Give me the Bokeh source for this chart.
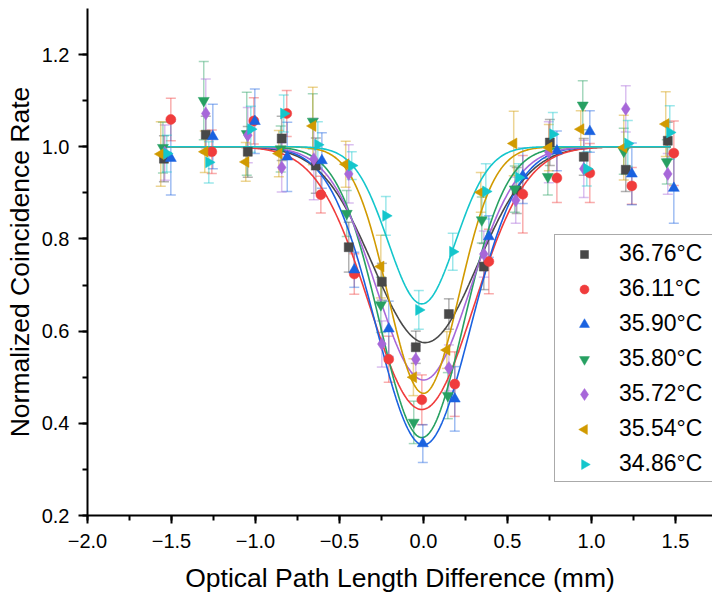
import numpy as np
from bokeh.plotting import figure
from bokeh.models import (Range1d, FixedTicker, Whisker, TeeHead, ColumnDataSource,
                          Legend, LegendItem)
from bokeh.embed import file_html
from bokeh.resources import INLINE

# ---------------- data ----------------
labels = ["36.76°C", "36.11°C", "35.90°C", "35.80°C", "35.72°C", "35.54°C", "34.86°C"]
colors = ["#484848", "#f03c3c", "#1a62e0", "#27a062", "#a767d9", "#d19a00", "#14c6cc"]
markers = ["square", "circle", "triangle", "inverted_triangle", "diamond", "triangle", "triangle"]
angles = [0, 0, 0, 0, 0, np.pi / 2, -np.pi / 2]

x_3676 = [-1.545, -1.296, -1.046, -0.844, -0.641, -0.445, -0.248, -0.046, 0.151, 0.359, 0.555, 0.752, 0.954, 1.204, 1.454]
y_3676 = [0.974, 1.026, 0.989, 1.018, 0.959, 0.782, 0.707, 0.565, 0.637, 0.740, 0.905, 1.009, 0.978, 0.950, 1.013]
e_3676 = [0.05, 0.04, 0.055, 0.048, 0.06, 0.054, 0.04, 0.035, 0.033, 0.05, 0.05, 0.05, 0.04, 0.047, 0.04]

x_3611 = [-1.504, -1.260, -1.010, -0.814, -0.611, -0.412, -0.207, -0.010, 0.186, 0.389, 0.591, 0.794, 0.990, 1.240, 1.490]
y_3611 = [1.059, 0.989, 1.056, 1.072, 0.896, 0.724, 0.539, 0.451, 0.485, 0.751, 0.897, 0.932, 0.943, 0.915, 0.986]
e_3611 = [0.046, 0.047, 0.05, 0.05, 0.04, 0.044, 0.05, 0.054, 0.07, 0.07, 0.084, 0.053, 0.064, 0.04, 0.07]

x_3590 = [-1.504, -1.254, -1.004, -0.811, -0.605, -0.412, -0.207, -0.004, 0.186, 0.389, 0.591, 0.794, 0.990, 1.240, 1.490]
y_3590 = [0.975, 1.022, 1.055, 0.978, 0.970, 0.733, 0.605, 0.356, 0.453, 0.805, 0.937, 0.991, 1.033, 0.941, 0.910]
e_3590 = [0.08, 0.07, 0.07, 0.075, 0.06, 0.038, 0.06, 0.041, 0.07, 0.045, 0.06, 0.043, 0.045, 0.067, 0.076]

x_3580 = [-1.551, -1.308, -1.052, -0.850, -0.659, -0.457, -0.254, -0.058, 0.145, 0.347, 0.543, 0.740, 0.948, 1.192, 1.448]
y_3580 = [0.998, 1.100, 1.028, 0.995, 1.055, 0.855, 0.657, 0.402, 0.460, 0.841, 0.908, 0.935, 1.090, 0.990, 0.967]
e_3580 = [0.055, 0.085, 0.09, 0.05, 0.06, 0.05, 0.06, 0.046, 0.05, 0.05, 0.05, 0.04, 0.053, 0.05, 0.048]

x_3572 = [-1.540, -1.296, -1.046, -0.844, -0.653, -0.445, -0.248, -0.046, 0.151, 0.359, 0.549, 0.746, 0.954, 1.204, 1.454]
y_3572 = [0.987, 1.072, 1.025, 0.955, 0.973, 0.941, 0.572, 0.539, 0.520, 0.767, 0.884, 0.988, 0.952, 1.082, 0.941]
e_3572 = [0.06, 0.075, 0.06, 0.053, 0.088, 0.063, 0.05, 0.03, 0.05, 0.05, 0.05, 0.066, 0.062, 0.05, 0.044]

x_3554 = [-1.564, -1.302, -1.058, -0.861, -0.659, -0.463, -0.254, -0.060, 0.139, 0.341, 0.537, 0.746, 0.936, 1.192, 1.442]
y_3554 = [0.984, 0.989, 0.967, 0.985, 1.045, 0.962, 0.740, 0.500, 0.559, 0.901, 1.007, 0.998, 1.038, 0.998, 1.049]
e_3554 = [0.07, 0.045, 0.042, 0.05, 0.084, 0.05, 0.068, 0.04, 0.04, 0.043, 0.07, 0.05, 0.04, 0.07, 0.07]

x_3486 = [-1.528, -1.278, -1.028, -0.832, -0.629, -0.427, -0.224, -0.028, 0.174, 0.371, 0.567, 0.770, 0.972, 1.216, 1.466]
y_3486 = [0.985, 0.966, 1.038, 1.072, 1.004, 0.959, 0.850, 0.646, 0.772, 0.903, 0.933, 1.027, 0.952, 1.007, 1.031]
e_3486 = [0.04, 0.045, 0.05, 0.04, 0.05, 0.03, 0.042, 0.042, 0.04, 0.06, 0.03, 0.047, 0.037, 0.05, 0.058]

# Gaussian dip fit parameters: y = 1 - depth * exp(-(x - center)^2 / (2 width^2))
fit_center = [0.01, -0.01, 0.0, -0.01, 0.0, 0.0, -0.01]
fit_depth = [0.425, 0.570, 0.647, 0.631, 0.506, 0.535, 0.341]
fit_width = [0.31, 0.31, 0.28, 0.25, 0.28, 0.21, 0.20]
fit_span = [-1.56, 1.47]

xs_all = [x_3676, x_3611, x_3590, x_3580, x_3572, x_3554, x_3486]
ys_all = [y_3676, y_3611, y_3590, y_3580, y_3572, y_3554, y_3486]
es_all = [e_3676, e_3611, e_3590, e_3580, e_3572, e_3554, e_3486]

x_ticks = [-2.0, -1.5, -1.0, -0.5, 0.0, 0.5, 1.0, 1.5]
x_tick_labels = ["−2.0", "−1.5", "−1.0", "−0.5", "0.0", "0.5", "1.0", "1.5"]
y_ticks = [0.2, 0.4, 0.6, 0.8, 1.0, 1.2]
y_tick_labels = ["0.2", "0.4", "0.6", "0.8", "1.0", "1.2"]

FONT = "Liberation Sans"

# ---------------- layout ----------------
W, H = 712, 596
LEFT, TOP, BOTTOM = 87, 8, 81
X0, Y0 = -2.0, 0.2
PX_PER_X, PX_PER_Y = 168.0, 461.0
frame_w = W - LEFT
frame_h = H - TOP - BOTTOM

p = figure(width=W, height=H, output_backend="svg", toolbar_location=None,
           x_range=Range1d(X0, X0 + frame_w / PX_PER_X),
           y_range=Range1d(Y0, Y0 + frame_h / PX_PER_Y),
           min_border_left=LEFT, min_border_right=0, min_border_top=TOP,
           min_border_bottom=BOTTOM)
p.outline_line_color = None
p.grid.visible = False
p.background_fill_color = "white"

for ax in (p.xaxis[0], p.yaxis[0]):
    ax.axis_line_width = 2
    ax.axis_line_color = "black"
    ax.major_tick_line_width = 2
    ax.minor_tick_line_width = 2
    ax.major_tick_in = 0
    ax.minor_tick_in = 0
    ax.major_tick_out = 9
    ax.minor_tick_out = 5
    ax.major_label_text_font = FONT
    ax.major_label_text_font_size = "20px"
    ax.major_label_text_color = "black"
    ax.axis_label_text_font = FONT
    ax.axis_label_text_font_size = "26.5px"
    ax.axis_label_text_font_style = "normal"
    ax.axis_label_text_color = "black"

p.xaxis.ticker = FixedTicker(ticks=x_ticks, minor_ticks=list(np.arange(-2.0, 1.76, 0.25)))
p.xaxis.major_label_overrides = {t: s for t, s in zip(x_ticks, x_tick_labels)}
p.xaxis.major_label_standoff = 10
p.xaxis.major_tick_out = 8
p.xaxis.axis_label = "Optical Path Length Difference (mm)"
p.xaxis.axis_label_standoff = 12

p.yaxis.ticker = FixedTicker(ticks=y_ticks, minor_ticks=list(np.arange(0.2, 1.31, 0.1)))
p.yaxis.major_label_overrides = {t: s for t, s in zip(y_ticks, y_tick_labels)}
p.yaxis.major_label_standoff = 9
p.yaxis.axis_label = "Normalized Coincidence Rate"
p.yaxis.axis_label_standoff = 4

# fit curves
for i in range(7):
    xf = np.linspace(fit_span[0], fit_span[1], 400)
    yf = 1 - fit_depth[i] * np.exp(-(xf - fit_center[i]) ** 2 / (2 * fit_width[i] ** 2))
    p.line(xf, yf, line_color=colors[i], line_width=1.6)

# error bars
for i in range(7):
    xs, ys, es = xs_all[i], ys_all[i], es_all[i]
    src = ColumnDataSource(dict(x=xs, upper=[a + b for a, b in zip(ys, es)],
                                lower=[a - b for a, b in zip(ys, es)]))
    w = Whisker(source=src, base="x", upper="upper", lower="lower", dimension="height",
                line_color=colors[i], line_alpha=0.42, line_width=1.5,
                upper_head=TeeHead(size=10, line_color=colors[i], line_alpha=0.42, line_width=1.5),
                lower_head=TeeHead(size=10, line_color=colors[i], line_alpha=0.42, line_width=1.5))
    p.add_layout(w)


def msize(m):
    return {"square": 9, "circle": 10, "diamond": 13}.get(m, 11)


# markers
renderers = []
for i in range(7):
    src = ColumnDataSource(dict(x=xs_all[i], y=ys_all[i]))
    r = p.scatter("x", "y", source=src, marker=markers[i], size=msize(markers[i]), angle=angles[i],
                  fill_color=colors[i], line_color=colors[i], line_width=0.5)
    renderers.append(r)

# ---------------- legend ----------------
# Bokeh never rotates legend glyphs, so the legend draws only box + labels and the
# (possibly rotated) legend markers are placed in its glyph column.
LG_X, LG_Y = 467, 33          # legend box offset from frame bottom-left (px)
LG_PAD, LG_GW, LG_H, LG_SP = 3, 54, 30, 5
dummy = p.scatter([np.nan], [np.nan], marker="square", size=1, fill_alpha=0, line_alpha=0)

legend = Legend(items=[LegendItem(label=labels[i], renderers=[dummy]) for i in range(7)],
                location=(LG_X, LG_Y), border_line_color="#555555", border_line_width=1,
                background_fill_alpha=0.0,
                label_text_font=FONT, label_text_font_size="23px", label_text_color="black",
                glyph_width=LG_GW, glyph_height=LG_H, label_height=LG_H, label_width=100,
                label_standoff=7, padding=LG_PAD, spacing=LG_SP, margin=0)
p.add_layout(legend)

lg_height = 2 * LG_PAD + 7 * LG_H + 6 * LG_SP
for i in range(7):
    cx = LG_X + LG_PAD + LG_GW / 2
    cy = LG_Y + lg_height - LG_PAD - LG_H / 2 - i * (LG_H + LG_SP)
    p.scatter([X0 + cx / PX_PER_X], [Y0 + cy / PX_PER_Y], marker=markers[i],
              size=msize(markers[i]) - 1, angle=angles[i], fill_color=colors[i],
              line_color=colors[i], line_width=0.5)

open("out.html", "w").write(file_html(p, INLINE))
